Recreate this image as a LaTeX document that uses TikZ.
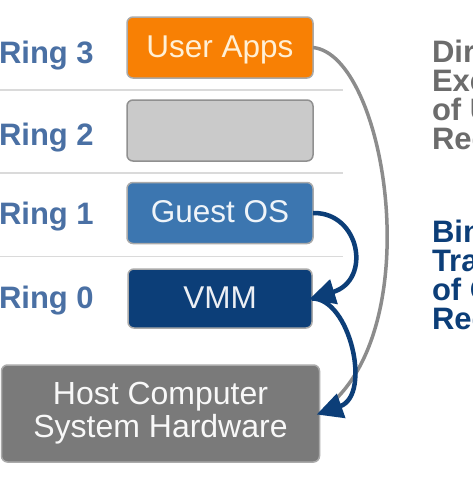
\documentclass[tikz,border=0pt]{standalone}
\usepackage{fontspec}
\setmainfont{Liberation Sans}
\usetikzlibrary{arrows.meta}

\definecolor{appsorange}{RGB}{248,128,4}
\definecolor{appstext}{RGB}{255,240,214}
\definecolor{slotgray}{RGB}{202,202,202}
\definecolor{guestblue}{RGB}{60,118,176}
\definecolor{vmmblue}{RGB}{12,62,120}
\definecolor{hostgray}{RGB}{122,122,122}
\definecolor{boxedge}{RGB}{170,170,170}
\definecolor{ringblue}{RGB}{74,112,164}
\definecolor{notegray}{RGB}{108,108,108}
\definecolor{curvegray}{RGB}{140,140,140}
\definecolor{ruleline}{RGB}{218,218,218}

\begin{document}
\begin{tikzpicture}[x=1pt, y=-1pt,
  every node/.style={outer sep=0pt},
  ring/.style={anchor=base west, inner sep=0pt, text=ringblue,
    font=\fontsize{31}{33}\selectfont\bfseries},
  box/.style={draw=boxedge, line width=1.5pt, rounded corners=6pt,
    minimum width=186pt, minimum height=61pt, text height=22pt, text depth=3pt,
    font=\fontsize{31.5}{33}\selectfont},
  note/.style={anchor=north west, inner sep=0pt, align=left,
    font=\fontsize{31}{29}\selectfont\bfseries},
  hop/.style={-{Triangle[length=26pt,width=25pt]}, line width=4.5pt, draw=vmmblue, shorten >=-3pt},
  direct/.style={line width=3.5pt, draw=curvegray}]
\useasboundingbox (0,0) rectangle (473,477);
\fill[white] (0,0) rectangle (473,477);
\clip (0,0) rectangle (473,477);

% ring separators
\draw[ruleline, line width=1.5pt] (0,90) -- (343,90);
\draw[ruleline, line width=1.5pt] (0,173) -- (343,173);
\draw[ruleline, line width=1.5pt] (0,256.5) -- (343,256.5);

% ring labels
\node[ring] (r3) at (-1,63) {Ring 3};
\node[ring] (r2) at (-1,145) {Ring 2};
\node[ring] (r1) at (-1,224) {Ring 1};
\node[ring] (r0) at (-1,308) {Ring 0};

% boxes
\node[box, fill=appsorange, text=appstext] (apps) at (220,47.5) {User Apps};
\node[box, fill=slotgray, draw=boxedge!85!black] (slot) at (220,130.5) {};
\node[box, fill=guestblue, text=white!92!guestblue] (guest) at (220,213) {Guest OS};
\node[box, fill=vmmblue, text=white!92!vmmblue, minimum width=184pt, minimum height=59pt] (vmm) at (220,298.5) {VMM};
\node[box, fill=hostgray, text=white!95!hostgray, minimum width=318pt, minimum height=97pt,
  align=center, text height=, text depth=, font=\fontsize{32}{33}\selectfont] (host) at (160.5,413.5) {Host Computer\\System Hardware};

% notes on the right
\node[note, text=notegray] (direct) at (432,40.5) {Direct\\Execution\\of User\\Requests};
\node[note, text=vmmblue] (binary) at (432,220.5) {Binary\\Translation\\of OS\\Requests};

% paths
\draw[direct, shorten >=14pt] (apps.east) .. controls (385,55) and (428,320) .. (host.east);
\draw[hop] (guest.east) .. controls (360,212) and (372,280) .. (vmm.east);
\draw[hop] (vmm.east) .. controls (350,298) and (372,395) .. (host.east);
\end{tikzpicture}
\end{document}
